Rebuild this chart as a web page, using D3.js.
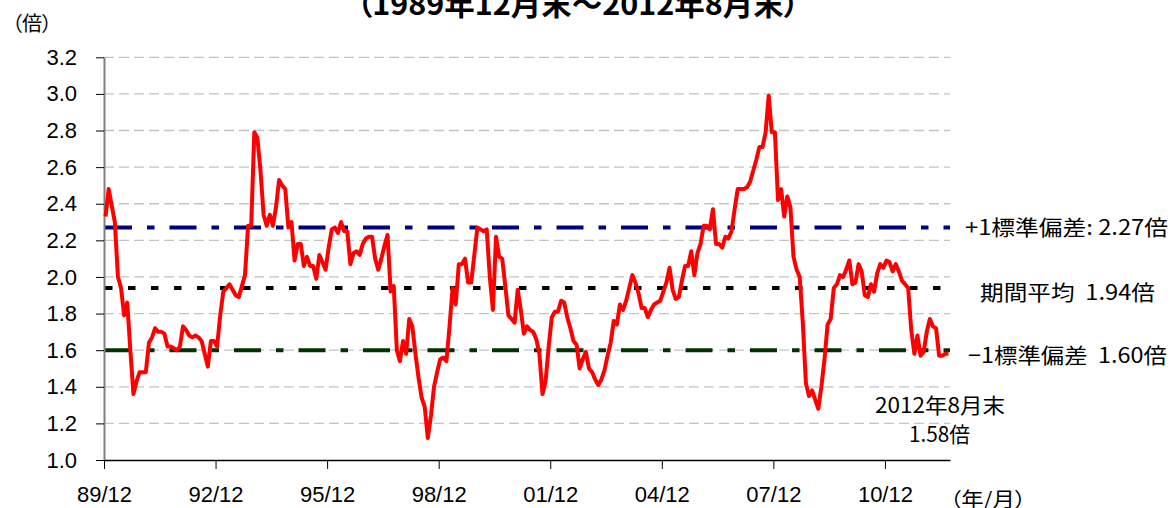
<!DOCTYPE html>
<html>
<head>
<meta charset="utf-8">
<script src="https://cdn.jsdelivr.net/npm/d3@7"></script>
<style>
  body { margin: 0; background: #fff; }
  svg { display: block; }
  .palt { font-feature-settings: "palt"; }
  .axis text { font-family: 'Liberation Sans', Arial, sans-serif; fill: #000; }
  .yaxis text { font-size: 22px; }
  .xaxis text { font-size: 22px; }
</style>
</head>
<body>
<div id="vis"></div>
<script>
const FRAME_WIDTH = 1175;
const FRAME_HEIGHT = 508;
const PLOT = { left: 104, right: 950, top: 57.3, bottom: 460 };

// monthly ratio, 1989/12 .. 2012/8
const ratio = [
  2.33, 2.48, 2.39, 2.30, 2.00, 1.94, 1.79, 1.86, 1.60, 1.36, 1.43, 1.48,
  1.48, 1.48, 1.64, 1.67, 1.72, 1.70, 1.70, 1.69, 1.62, 1.62, 1.61, 1.60,
  1.62, 1.73, 1.71, 1.68, 1.67, 1.68, 1.67, 1.65, 1.58, 1.51, 1.65, 1.65,
  1.62, 1.79, 1.92, 1.94, 1.96, 1.93, 1.90, 1.89, 1.95, 2.01, 2.28, 2.28,
  2.79, 2.76, 2.58, 2.34, 2.28, 2.34, 2.28, 2.38, 2.53, 2.50, 2.48, 2.27,
  2.30, 2.09, 2.18, 2.18, 2.06, 2.11, 2.06, 2.06, 1.99, 2.12, 2.08, 2.04,
  2.16, 2.26, 2.27, 2.24, 2.30, 2.25, 2.25, 2.07, 2.13, 2.14, 2.12, 2.18,
  2.21, 2.22, 2.22, 2.10, 2.04, 2.10, 2.17, 2.23, 1.92, 1.95, 1.60, 1.54,
  1.65, 1.58, 1.77, 1.73, 1.58, 1.45, 1.34, 1.29, 1.12, 1.24, 1.40, 1.48,
  1.55, 1.56, 1.54, 1.73, 1.94, 1.85, 2.07, 2.07, 2.10, 1.97, 1.97, 2.12,
  2.27, 2.26, 2.25, 2.26, 2.00, 1.82, 2.22, 2.11, 2.10, 1.95, 1.79, 1.77,
  1.75, 1.93, 1.82, 1.69, 1.73, 1.71, 1.70, 1.66, 1.58, 1.36, 1.43, 1.62,
  1.78, 1.81, 1.81, 1.87, 1.86, 1.78, 1.72, 1.65, 1.63, 1.50, 1.55, 1.59,
  1.50, 1.48, 1.44, 1.41, 1.44, 1.49, 1.57, 1.64, 1.76, 1.74, 1.85, 1.82,
  1.87, 1.94, 2.01, 1.97, 1.91, 1.83, 1.83, 1.78, 1.82, 1.85, 1.86, 1.87,
  1.92, 1.97, 2.05, 1.93, 1.88, 1.89, 1.98, 2.06, 2.06, 2.14, 2.01, 2.13,
  2.18, 2.28, 2.28, 2.26, 2.37, 2.18, 2.18, 2.16, 2.22, 2.21, 2.25, 2.37,
  2.48, 2.48, 2.48, 2.49, 2.52, 2.58, 2.64, 2.71, 2.71, 2.79, 2.99, 2.79,
  2.79, 2.42, 2.48, 2.33, 2.44, 2.38, 2.11, 2.04, 2.00, 1.75, 1.42, 1.35,
  1.38, 1.33, 1.28, 1.40, 1.55, 1.74, 1.77, 1.94, 1.96, 2.01, 2.00, 2.04,
  2.09, 1.96, 1.97, 2.07, 2.03, 1.90, 1.89, 1.96, 1.92, 2.02, 2.07, 2.05,
  2.09, 2.08, 2.03, 2.07, 2.03, 1.98, 1.96, 1.94, 1.71, 1.58, 1.68, 1.57,
  1.59, 1.70, 1.77, 1.73, 1.72, 1.57, 1.57, 1.58, 1.58
];

// month categories
const months = [];
for (let k = 0; k < ratio.length; k++) {
  const m = 12 + k;
  months.push((1989 + Math.floor((m - 1) / 12)) + "/" + (((m - 1) % 12) + 1));
}

const xTickMonths = ["1989/12", "1992/12", "1995/12", "1998/12", "2001/12", "2004/12", "2007/12", "2010/12"];
const xTickLabels = ["89/12", "92/12", "95/12", "98/12", "01/12", "04/12", "07/12", "10/12"];
const yTicks = [1.0, 1.2, 1.4, 1.6, 1.8, 2.0, 2.2, 2.4, 2.6, 2.8, 3.0, 3.2];

// reference lines: +1 sigma, mean, -1 sigma
const refValues = [2.27, 1.94, 1.60];
const refNames = ["+1標準偏差: ", "期間平均  ", "−1標準偏差  "];
const refColors = ["#000080", "#000000", "#003300"];
const refDash = ["27,15,7.5,15", "7.5,15.5", "27,15,7.5,15"];

const lastLabel = "2012年8月末";

const svg = d3.select("#vis")
  .append("svg")
  .attr("width", FRAME_WIDTH)
  .attr("height", FRAME_HEIGHT);

const X_SCALE = d3.scaleLinear()
  .domain([0, ratio.length])
  .range([PLOT.left, PLOT.right]);

const Y_SCALE = d3.scaleLinear()
  .domain([1.0, 3.2])
  .range([PLOT.bottom, PLOT.top]);

const CJK = "'Noto Sans CJK JP', 'Noto Sans', sans-serif";

// gridlines
svg.append("g")
  .selectAll("line")
  .data(yTicks.slice(1))
  .enter()
  .append("line")
  .attr("x1", PLOT.left)
  .attr("x2", PLOT.right)
  .attr("y1", (d) => Y_SCALE(d))
  .attr("y2", (d) => Y_SCALE(d))
  .attr("stroke", "#c4c4c4")
  .attr("stroke-width", 1.3)
  .attr("stroke-dasharray", "10,5");

// reference lines
svg.append("g")
  .selectAll("line")
  .data(refValues)
  .enter()
  .append("line")
  .attr("x1", PLOT.left + 1)
  .attr("x2", PLOT.right)
  .attr("y1", (d) => Y_SCALE(d))
  .attr("y2", (d) => Y_SCALE(d))
  .attr("stroke", (d, i) => refColors[i])
  .attr("stroke-width", 4)
  .attr("stroke-dasharray", (d, i) => refDash[i]);

// y axis
const yAxis = svg.append("g")
  .attr("class", "axis yaxis")
  .attr("transform", `translate(${PLOT.left},0)`)
  .call(d3.axisLeft(Y_SCALE)
    .tickValues(yTicks)
    .tickFormat(d3.format(".1f"))
    .tickSize(8)
    .tickSizeOuter(0)
    .tickPadding(19));
yAxis.select(".domain").attr("stroke", "#808080").attr("stroke-width", 2);
yAxis.selectAll(".tick line").attr("stroke", "#000");

// x axis
const xAxis = svg.append("g")
  .attr("class", "axis xaxis")
  .attr("transform", `translate(0,${PLOT.bottom})`)
  .call(d3.axisBottom(X_SCALE)
    .tickValues(xTickMonths.map((m) => months.indexOf(m)))
    .tickFormat((d, i) => xTickLabels[i])
    .tickSize(9)
    .tickSizeOuter(0)
    .tickPadding(17));
xAxis.select(".domain").attr("stroke", "#000").attr("stroke-width", 1.3);
xAxis.selectAll(".tick line").attr("stroke", "#000");

// ratio line
const line = d3.line()
  .x((d, i) => X_SCALE(i + 0.5))
  .y((d) => Y_SCALE(d));

svg.append("path")
  .datum(ratio)
  .attr("d", line)
  .attr("fill", "none")
  .attr("stroke", "#ff0000")
  .attr("stroke-width", 4)
  .attr("stroke-linejoin", "round");

// title (cut off at the top in the original)
svg.append("text")
  .attr("class", "palt")
  .attr("x", 357)
  .attr("y", 15)
  .attr("font-family", CJK)
  .attr("font-weight", "bold")
  .attr("font-size", 30)
  .attr("textLength", 442)
  .attr("lengthAdjust", "spacingAndGlyphs")
  .text("（" + months[0].replace("/", "年") + "月末～" + months[months.length - 1].replace("/", "年") + "月末）");

// unit labels
svg.append("text")
  .attr("class", "palt")
  .attr("x", 12)
  .attr("y", 31)
  .attr("font-family", CJK)
  .attr("font-size", 20)
  .attr("textLength", 40)
  .attr("lengthAdjust", "spacingAndGlyphs")
  .text("（倍）");

svg.append("text")
  .attr("class", "palt")
  .attr("x", 950)
  .attr("y", 507)
  .attr("font-family", CJK)
  .attr("font-size", 20)
  .attr("textLength", 76)
  .attr("lengthAdjust", "spacingAndGlyphs")
  .text("（年/月）");

// reference labels
const refLabelPos = [
  { x: 965, y: 235, w: 203 },
  { x: 980, y: 300, w: 175 },
  { x: 968, y: 363, w: 199 },
];
svg.append("g")
  .selectAll("text")
  .data(refValues)
  .enter()
  .append("text")
  .attr("x", (d, i) => refLabelPos[i].x)
  .attr("y", (d, i) => refLabelPos[i].y)
  .attr("textLength", (d, i) => refLabelPos[i].w)
  .attr("lengthAdjust", "spacingAndGlyphs")
  .attr("font-family", CJK)
  .attr("font-size", 21)
  .style("white-space", "pre")
  .text((d, i) => refNames[i] + d.toFixed(2) + "倍");

// latest value
svg.append("text")
  .attr("x", 875)
  .attr("y", 413)
  .attr("textLength", 130)
  .attr("lengthAdjust", "spacingAndGlyphs")
  .attr("font-family", CJK)
  .attr("font-size", 21)
  .text(lastLabel);

svg.append("text")
  .attr("x", 909)
  .attr("y", 442)
  .attr("textLength", 61)
  .attr("lengthAdjust", "spacingAndGlyphs")
  .attr("font-family", CJK)
  .attr("font-size", 21)
  .text(ratio[ratio.length - 1].toFixed(2) + "倍");
</script>
</body>
</html>
